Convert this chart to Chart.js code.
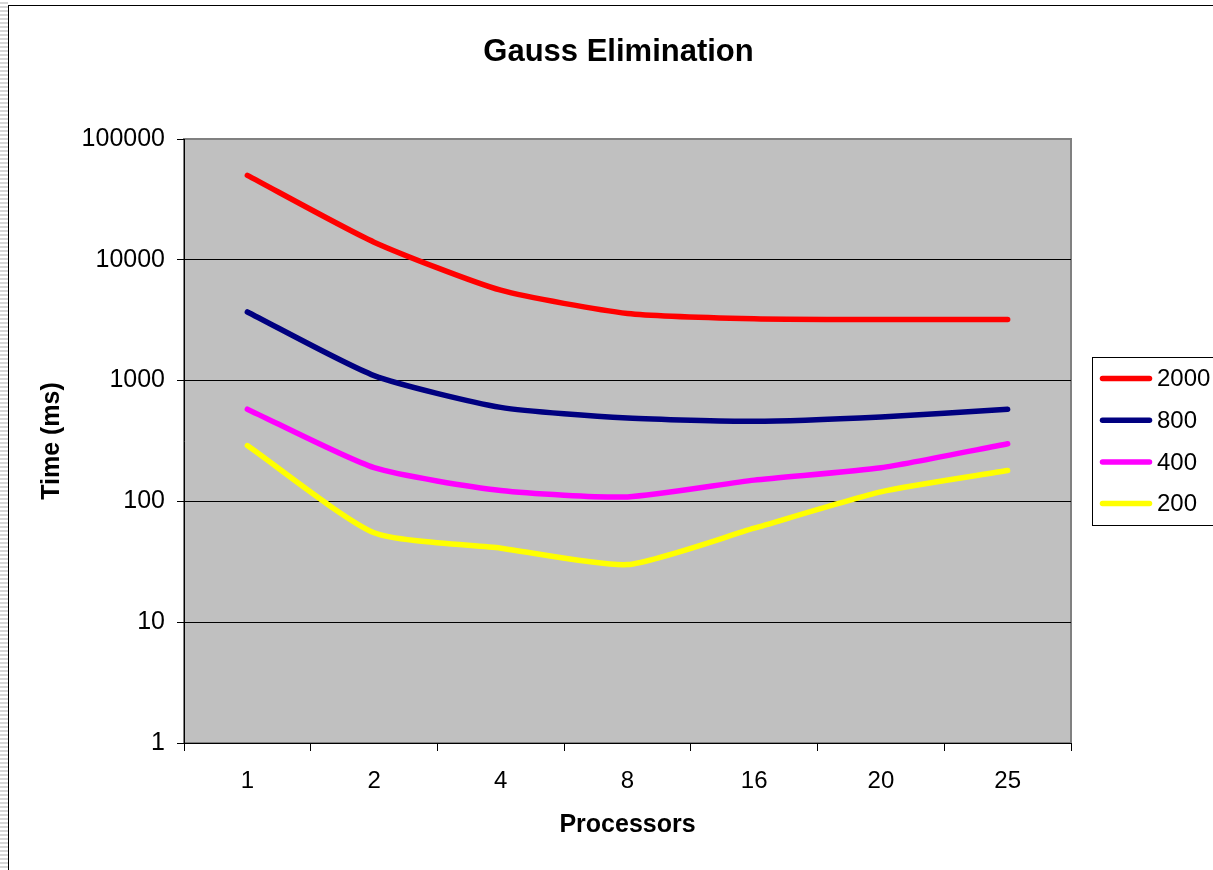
<!DOCTYPE html>
<html>
<head>
<meta charset="utf-8">
<title>Gauss Elimination</title>
<script src="https://cdn.jsdelivr.net/npm/chart.js@4.4.1/dist/chart.umd.min.js"></script>
<style>
  html, body { margin: 0; padding: 0; background: #fff; }
  #wrap { position: relative; width: 1213px; height: 870px; overflow: hidden; }
  #strip {
    position: absolute; left: 0; top: 0; width: 8px; height: 870px;
    background: repeating-linear-gradient(to bottom, #fff 0, #fff 2px, #d6d6d6 2px, #d6d6d6 4px);
  }
  #frame {
    position: absolute; left: 8px; top: 5px; width: 1300px; height: 1000px;
    border-left: 1px solid #000; border-top: 1px solid #000;
  }
  canvas { position: absolute; left: 0; top: 0; }
</style>
</head>
<body>
<div id="wrap">
  <div id="strip"></div>
  <div id="frame"></div>
  <canvas id="gaussChart" width="1213" height="870"></canvas>
</div>
<script>
const processors = ['1', '2', '4', '8', '16', '20', '25'];
const sizes = ['2000', '800', '400', '200'];
const time2000 = [50000, 14000, 5600, 3600, 3250, 3200, 3200];
const time800 = [3700, 1100, 600, 490, 460, 500, 580];
const time400 = [580, 190, 123, 109, 150, 190, 300];
const time200 = [290, 55, 41, 30, 60, 120, 180];
const lineColors = ['#ff0000', '#000080', '#ff00ff', '#ffff00'];
const timeTicks = [1, 10, 100, 1000, 10000, 100000];

Chart.defaults.font.family = "'Liberation Sans', Arial, sans-serif";
Chart.defaults.color = '#000';

// grey plot area with a darker frame, like a spreadsheet chart
const plotBackground = {
  id: 'plotBackground',
  beforeDraw(chart) {
    const {ctx, chartArea: a} = chart;
    ctx.save();
    ctx.fillStyle = '#c0c0c0';
    ctx.fillRect(a.left, a.top, a.right - a.left, a.bottom - a.top);
    ctx.strokeStyle = '#808080';
    ctx.lineWidth = 2;
    ctx.strokeRect(a.left, a.top, a.right - a.left, a.bottom - a.top);
    ctx.restore();
  }
};

// boxed legend to the right of the plot
const boxLegend = {
  id: 'boxLegend',
  afterDraw(chart) {
    const {ctx, chartArea: a} = chart;
    const mid = (a.top + a.bottom) / 2;
    const left = a.right + 21;
    const rowGap = 41.7;
    ctx.save();
    ctx.strokeStyle = '#000';
    ctx.lineWidth = 1;
    ctx.strokeRect(left + 0.5, Math.round(mid - 84) + 0.5, 200, 168);
    ctx.font = "24px 'Liberation Sans', Arial, sans-serif";
    ctx.textBaseline = 'middle';
    ctx.textAlign = 'left';
    chart.data.datasets.forEach((ds, i) => {
      const y = mid - 62.5 + i * rowGap;
      ctx.strokeStyle = ds.borderColor;
      ctx.lineWidth = 5.5;
      ctx.lineCap = 'round';
      ctx.beginPath();
      ctx.moveTo(left + 10.5, y);
      ctx.lineTo(left + 57.5, y);
      ctx.stroke();
      ctx.fillStyle = '#000';
      ctx.fillText(ds.label, left + 65, y + 1);
    });
    ctx.restore();
  }
};

const series = [time2000, time800, time400, time200];

new Chart(document.getElementById('gaussChart'), {
  type: 'line',
  data: {
    labels: processors,
    datasets: series.map((values, i) => ({
      label: sizes[i],
      data: values,
      borderColor: lineColors[i],
      backgroundColor: lineColors[i],
      borderWidth: 5.5,
      borderCapStyle: 'round',
      borderJoinStyle: 'round',
      pointRadius: 0,
      tension: 0.2,
      fill: false
    }))
  },
  options: {
    responsive: false,
    animation: false,
    devicePixelRatio: 1,
    layout: { padding: { left: 24, right: 0, top: 0, bottom: 0 } },
    plugins: {
      legend: { display: false },
      tooltip: { enabled: false },
      title: {
        display: true,
        text: 'Gauss Elimination',
        color: '#000',
        font: { size: 31, weight: 'bold' },
        padding: { top: 33.4, bottom: 68.4 }
      }
    },
    scales: {
      x: {
        offset: true,
        grid: { offset: true, drawOnChartArea: false, drawTicks: true, tickLength: 8, color: '#000' },
        border: { display: true, color: '#000', width: 1 },
        ticks: { color: '#000', font: { size: 24 }, padding: 16, maxRotation: 0 },
        title: {
          display: true,
          text: 'Processors',
          color: '#000',
          font: { size: 25, weight: 'bold' },
          padding: { top: 0, bottom: 30 }
        },
        afterFit: s => { s.height = 127; }
      },
      y: {
        type: 'logarithmic',
        min: 1,
        max: 100000,
        afterBuildTicks: s => { s.ticks = timeTicks.map(v => ({ value: v })); },
        ticks: { callback: v => String(v), color: '#000', font: { size: 25 }, padding: 12 },
        grid: {
          color: c => (c.tick && c.tick.value === 100000) ? 'rgba(0,0,0,0)' : '#000',
          tickColor: '#000',
          tickLength: 7,
          lineWidth: 1
        },
        border: { display: true, color: '#000', width: 1 },
        title: {
          display: true,
          text: 'Time (ms)',
          color: '#000',
          font: { size: 25, weight: 'bold' },
          padding: { top: 13, bottom: 0 }
        },
        afterFit: s => { s.width = 160; }
      },
      // keeps room on the right for the boxed legend
      legendSpace: {
        position: 'right',
        display: true,
        ticks: { display: false },
        grid: { display: false },
        border: { display: false },
        afterFit: s => { s.width = 142; }
      }
    }
  },
  plugins: [plotBackground, boxLegend]
});
</script>
</body>
</html>
